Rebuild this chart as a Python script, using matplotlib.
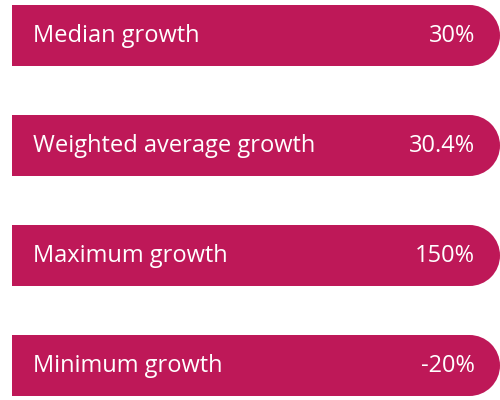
import matplotlib.pyplot as plt
from matplotlib.patches import Circle

# data
labels = ["Median growth", "Weighted average growth", "Maximum growth", "Minimum growth"]
values = ["30%", "30.4%", "150%", "-20%"]

bar_color = "#BE1858"
plt.rcParams["font.family"] = ["Open Sans", "DejaVu Sans"]

fig = plt.figure(figsize=(5, 4), dpi=100)
ax = fig.add_axes([0, 0, 1, 1])
ax.set_xlim(0, 500)
ax.set_ylim(400, 0)   # pixel-like units, top down
ax.axis("off")

x0, x_end, h = 12, 469.5, 61
ys = [35.5 + 110 * i for i in range(len(labels))]

ax.barh(ys, x_end - x0, left=x0, height=h, color=bar_color, linewidth=0)
for y, lab, val in zip(ys, labels, values):
    # round cap on the right
    ax.add_patch(Circle((x_end, y), h / 2, color=bar_color, linewidth=0))
    ax.text(33, y + 1, lab, color="white", fontsize=17, va="center", ha="left")
    ax.text(475, y + 1, val, color="white", fontsize=17, va="center", ha="right")

plt.savefig("out.png", dpi=100)
